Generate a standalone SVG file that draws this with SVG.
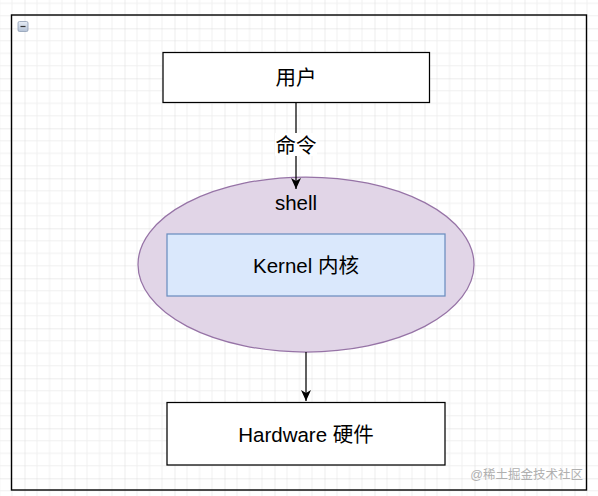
<svg xmlns="http://www.w3.org/2000/svg" width="598" height="496" viewBox="0 0 598 496">
<style>
text{font-family:"Liberation Sans","Noto Sans CJK SC",Arial,sans-serif;fill:#000;}
.lbl{font-size:20.5px;text-anchor:middle;dominant-baseline:central;}
.box{fill:#fff;stroke:#000;stroke-width:1.25;}
.edge{fill:none;stroke:#000;stroke-width:1.25;}
</style>
<defs>
<pattern id="grid" patternUnits="userSpaceOnUse" x="24.5" y="28.3" width="50" height="50">
<path d="M12.5 0V50M25 0V50M37.5 0V50M0 12.5H50M0 25H50M0 37.5H50" stroke="#f0f0f0" stroke-width="1" fill="none"/>
<path d="M0 0V50M0 0H50" stroke="#dadada" stroke-width="1" fill="none"/>
</pattern>
<linearGradient id="icon" x1="0" y1="0" x2="0" y2="1">
<stop offset="0" stop-color="#e8eef6"/>
<stop offset="1" stop-color="#b4c2d6"/>
</linearGradient>
<marker id="arr" viewBox="0 0 12 12" refX="11" refY="6" markerWidth="12" markerHeight="12" markerUnits="userSpaceOnUse" orient="auto">
<path d="M0 1L11 6L0 11L3 6Z" fill="#000"/>
</marker>
</defs>
<rect width="598" height="496" fill="#fff"/>
<rect width="598" height="496" fill="url(#grid)"/>
<g id="container">
<rect x="11.5" y="15" width="575" height="475" fill="none" stroke="#000" stroke-width="1.4"/>
<g id="collapse">
<rect x="18" y="21.5" width="10" height="10" rx="1.5" fill="url(#icon)" stroke="#8e9db4" stroke-width="0.8"/>
<path d="M20.5 26.5H25.5" stroke="#333" stroke-width="1.2"/>
</g>
</g>
<g id="user">
<rect class="box" x="163" y="52.5" width="266.5" height="50"/>
<text class="lbl" x="296" y="77.5">用户</text>
</g>
<g id="shell">
<ellipse cx="306" cy="264.5" rx="168" ry="87.5" fill="#e1d5e7" stroke="#9673a6" stroke-width="1.25"/>
<text class="lbl" x="296" y="202">shell</text>
</g>
<g id="kernel">
<rect x="167" y="234" width="278" height="62" fill="#dae8fc" stroke="#6c8ebf" stroke-width="1.25"/>
<text class="lbl" x="306" y="265">Kernel 内核</text>
</g>
<g id="hardware">
<rect class="box" x="167" y="402.5" width="278" height="62.5"/>
<text class="lbl" x="306" y="434">Hardware 硬件</text>
</g>
<g id="connectors">
<path class="edge" d="M296 102.5V189" marker-end="url(#arr)"/>
<rect x="275" y="133" width="42" height="23" fill="#fff"/>
<text class="lbl" x="296" y="145">命令</text>
<path class="edge" d="M306 352V401" marker-end="url(#arr)"/>
</g>
<text x="583" y="479" font-size="12.5" text-anchor="end" style="fill:#b0b0b0">@稀土掘金技术社区</text>
</svg>
